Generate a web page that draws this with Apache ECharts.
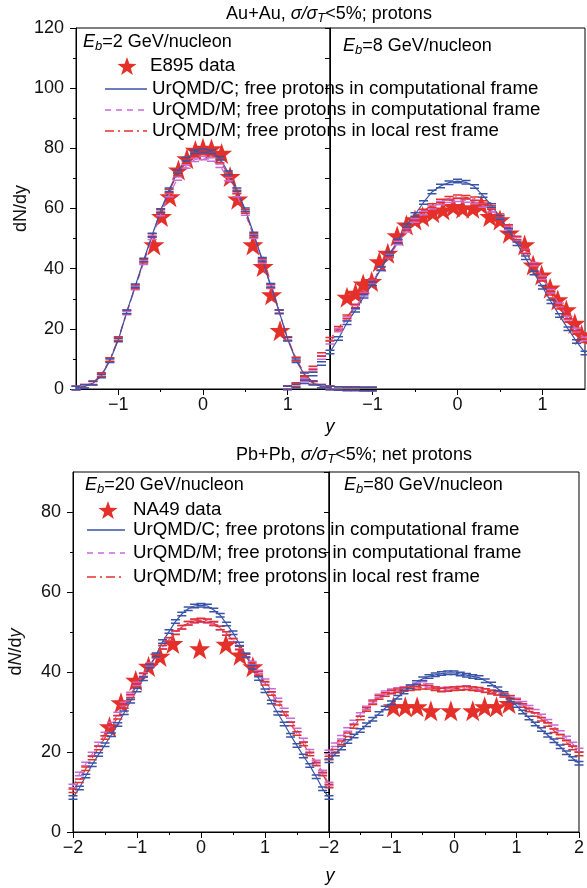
<!DOCTYPE html>
<html>
<head>
<meta charset="utf-8">
<script src="https://cdn.jsdelivr.net/npm/echarts@6/dist/echarts.min.js"></script>
<style>
  html, body { margin: 0; padding: 0; background: #fff; }
  #chart { width: 587px; height: 888px; }
</style>
</head>
<body>
<div id="chart"></div>
<script>
// rapidity grids of the model curves
const xs2 = [-1.5,-1.4,-1.3,-1.2,-1.1,-1.0,-0.9,-0.8,-0.7,-0.6,-0.5,-0.4,-0.3,-0.2,-0.1,0,0.1,0.2,0.3,0.4,0.5,0.6,0.7,0.8,0.9,1.0,1.1,1.2,1.3,1.4,1.5,1.6,1.7,1.8,1.9,2.0];
const xs8 = [-2.0,-1.9,-1.8,-1.7,-1.6,-1.5,-1.4,-1.3,-1.2,-1.1,-1.0,-0.9,-0.8,-0.7,-0.6,-0.5,-0.4,-0.3,-0.2,-0.1,0,0.1,0.2,0.3,0.4,0.5,0.6,0.7,0.8,0.9,1.0,1.1,1.2,1.3,1.4,1.5];
const xsPb = [-2.0,-1.9,-1.8,-1.7,-1.6,-1.5,-1.4,-1.3,-1.2,-1.1,-1.0,-0.9,-0.8,-0.7,-0.6,-0.5,-0.4,-0.3,-0.2,-0.1,0,0.1,0.2,0.3,0.4,0.5,0.6,0.7,0.8,0.9,1.0,1.1,1.2,1.3,1.4,1.5,1.6,1.7,1.8,1.9,2.0];

// Au+Au 2 GeV/nucleon
const blue2 = [0.3,0.8,1.9,4.3,9.4,16.3,25.7,34.3,42.9,51.2,59.3,66.2,72.2,76.4,78.9,79.2,78.9,76.7,71.9,66.2,59.6,51.5,43.1,34.5,25.7,16.5,9.4,4.7,1.9,0.8,0.3,0.2,0.1,0.1,0.0,0.0];
const mag2 = [0.3,0.9,2.0,4.6,9.6,16.5,25.3,33.6,42.0,50.3,58.2,64.5,70.0,74.0,76.2,76.8,76.3,74.2,69.8,64.5,58.3,50.6,42.4,34.0,25.6,16.7,9.9,4.9,2.1,0.9,0.4,0.2,0.1,0.1,0.0,0.0];
const red2 = [0.3,0.9,2.1,4.8,9.8,16.8,25.6,34.0,42.5,51.0,59.0,65.8,71.5,75.6,77.9,78.5,78.0,75.8,71.2,65.5,59.0,51.0,42.8,34.2,25.8,16.8,10.0,5.0,2.2,0.9,0.4,0.2,0.1,0.1,0.0,0.0];
const e895x2 = [-0.58,-0.49,-0.39,-0.29,-0.19,-0.09,0.0,0.1,0.22,0.32,0.41,0.59,0.71,0.81,0.91];
const e895y2 = [47.9,57.3,63.9,72.8,76.5,79.3,80.0,79.8,78.3,70.6,63.1,47.9,40.7,31.3,19.4];

// Au+Au 8 GeV/nucleon
const blue8 = [0.3,1.0,2.4,5.0,8.5,12.3,16.8,22.0,26.2,30.8,35.0,40.0,45.0,49.2,54.3,58.0,62.0,65.5,67.5,68.6,69.1,68.7,67.3,64.3,61.0,57.0,52.8,48.3,43.6,38.6,33.8,29.0,24.4,20.0,15.8,12.0];
const mag8 = [0.4,1.2,3.0,6.2,10.5,15.5,19.6,23.4,27.2,31.5,35.8,40.0,44.2,48.5,52.8,56.0,58.5,60.4,61.8,62.6,62.9,62.7,62.2,61.0,59.4,57.0,53.6,49.8,45.8,41.5,37.0,32.5,28.0,23.6,19.6,16.6];
const red8 = [0.5,1.5,3.5,7.0,11.5,16.5,20.2,24.0,27.6,32.3,36.0,40.1,44.5,49.0,53.4,56.7,59.2,61.0,62.5,63.4,63.9,63.7,63.2,62.0,60.3,57.6,54.0,50.2,45.5,41.0,36.5,31.8,27.2,22.8,18.8,16.0];
const e895x8 = [-1.3,-1.2,-1.11,-1.01,-0.92,-0.82,-0.71,-0.6,-0.5,-0.41,-0.29,-0.17,-0.05,0.06,0.18,0.28,0.38,0.5,0.61,0.79,0.89,0.99,1.09,1.18,1.28,1.38,1.46];
const e895y8 = [30.5,31.8,34.9,35.7,42.3,45.1,50.9,54.5,56.2,57.3,58.6,59.5,60.6,60.1,60.1,61.2,57.3,56.2,51.8,47.9,41.2,37.9,33.5,29.6,26.3,21.8,18.0];

// Pb+Pb 20 GeV/nucleon
const blue20 = [8.6,11.0,14.0,16.8,19.4,21.8,24.3,26.9,29.8,32.7,35.5,38.3,41.5,44.3,47.6,50.1,52.6,54.5,55.8,56.5,56.7,56.5,55.5,54.2,52.0,49.8,47.0,44.2,41.2,38.4,35.3,32.5,29.7,27.0,24.2,21.6,19.0,16.6,13.8,10.8,8.6];
const mag20 = [11.5,14.5,17.0,19.5,22.0,24.5,27.0,29.5,32.0,34.5,37.0,39.4,41.8,44.0,46.2,48.2,49.9,51.2,52.2,52.7,52.9,52.7,52.0,51.0,49.6,48.0,46.2,44.2,42.2,40.0,37.8,35.4,33.0,30.5,28.0,25.5,23.0,20.2,17.5,15.0,12.0];
const red20 = [10.3,12.8,15.8,18.5,21.0,23.6,26.2,28.7,31.4,34.0,36.7,39.2,41.6,44.0,46.2,48.1,49.8,51.2,52.2,52.8,53.0,52.8,52.2,51.0,49.6,47.9,46.0,44.0,41.8,39.6,37.2,34.6,32.2,29.6,27.0,24.6,22.0,19.5,17.0,14.5,11.5];
const na49x20 = [-1.43,-1.25,-1.02,-0.82,-0.64,-0.44,-0.02,0.39,0.61,0.81];
const na49y20 = [26.3,32.3,37.9,41.4,43.9,47.1,45.8,46.9,44.2,41.3];

// Pb+Pb 80 GeV/nucleon
const blue80 = [17.8,19.5,21.0,22.6,24.0,25.4,26.8,28.2,29.6,31.0,32.3,33.7,35.0,36.3,37.4,38.3,38.9,39.3,39.6,39.8,39.8,39.5,39.2,38.9,38.6,37.8,37.0,35.8,34.6,33.0,31.6,30.0,28.5,27.0,25.6,24.2,22.8,21.3,19.8,18.4,17.2];
const mag80 = [20.0,21.8,23.7,25.6,27.5,29.4,31.0,32.6,34.0,34.8,35.3,35.6,35.9,36.3,36.8,37.1,36.6,35.9,35.7,35.8,35.9,36.0,36.1,35.9,35.6,35.3,35.0,34.7,34.2,33.7,33.0,32.2,31.2,30.2,29.0,27.7,26.3,24.9,23.5,22.0,20.5];
const red80 = [18.5,20.2,22.3,24.3,26.4,28.5,30.6,32.3,33.6,34.4,35.0,35.3,35.6,35.8,36.0,36.2,36.2,35.8,35.5,35.6,35.8,35.9,36.0,35.8,35.7,35.4,35.0,34.7,34.2,33.6,32.7,31.6,30.5,29.4,28.2,26.9,25.3,23.9,22.4,21.0,19.5];
const na49x80 = [-0.97,-0.78,-0.59,-0.37,-0.05,0.30,0.49,0.68,0.88];
const na49y80 = [31.3,31.3,31.3,30.3,30.3,30.3,31.3,31.3,32.1];

// tick labels
const xTicksTop = [-1, 0, 1];
const xMinorTop = [-0.5, 0.5];
const xTicksBotL = [-2, -1, 0, 1];
const xTicksBotR = [-2, -1, 0, 1, 2];
const xTicksBot = [-2, -1, 0, 1, 2];
const xMinorBot = [-1.5, -0.5, 0.5, 1.5];
const yTicksTop = [0, 20, 40, 60, 80, 100, 120];
const yMinorTop = [10, 30, 50, 70, 90, 110];
const yTicksBot = [0, 20, 40, 60, 80];
const yMinorBot = [10, 30, 50, 70];

const FONT = '"Liberation Sans", Arial, Helvetica, sans-serif';
const BLUE = '#3953a8';
const MAG = '#c86ad8';
const RED = '#e5302a';
const STAR = 'path://M12,0.5L14.9,8.7L23.5,8.7L16.6,13.9L19.2,22.3L12,17.2L4.8,22.3L7.4,13.9L0.5,8.7L9.1,8.7Z';
const CAP = 'path://M0,0H10V1.5H0Z M0,3.5H10V5H0Z';

const rich = {
    n: { fontSize: 18, fontFamily: FONT, color: '#111', lineHeight: 22 },
    l: { fontSize: 18.7, fontFamily: FONT, color: '#111', lineHeight: 22 },
    i: { fontSize: 18, fontFamily: FONT, color: '#111', fontStyle: 'italic', lineHeight: 22 },
    s: { fontSize: 13, fontFamily: FONT, color: '#111', fontStyle: 'italic', lineHeight: 11, verticalAlign: 'bottom' }
};

const zip = (xs, ys) => xs.map((x, i) => [x, ys[i]]);
const minus = v => String(v).replace('-', '\u2212');

const xMajor = (grid, min, max, ticks, labels) => ({
    type: 'value', gridIndex: grid, position: 'bottom', min, max,
    axisLine: { show: true, onZero: false, lineStyle: { color: '#000', width: 1 } },
    axisTick: { show: true, length: 6, customValues: ticks, lineStyle: { color: '#000' } },
    axisLabel: { customValues: labels, margin: 7, fontSize: 18, fontFamily: FONT, color: '#111', formatter: minus },
    splitLine: { show: false }
});
const xMinor = (grid, min, max, ticks) => ({
    type: 'value', gridIndex: grid, position: 'bottom', min, max,
    axisLine: { show: false, onZero: false },
    axisTick: { show: true, length: 3, customValues: ticks, lineStyle: { color: '#000' } },
    axisLabel: { show: false },
    splitLine: { show: false }
});
const yMajor = (grid, min, max, ticks, name, nameStyle) => ({
    type: 'value', gridIndex: grid, position: 'left', min, max,
    name, nameLocation: 'middle', nameGap: 46, nameTextStyle: nameStyle,
    axisLine: { show: true, onZero: false, lineStyle: { color: '#000', width: 1 } },
    axisTick: { show: true, length: 6, customValues: ticks, lineStyle: { color: '#000' } },
    axisLabel: { customValues: ticks, margin: 12, fontSize: 18, fontFamily: FONT, color: '#111' },
    splitLine: { show: false }
});
const yMinor = (grid, min, max, ticks) => ({
    type: 'value', gridIndex: grid, position: 'left', min, max,
    axisLine: { show: false, onZero: false },
    axisTick: { show: true, length: 3, customValues: ticks, lineStyle: { color: '#000' } },
    axisLabel: { show: false },
    splitLine: { show: false }
});
const yMirror = (grid, min, max) => ({
    type: 'value', gridIndex: grid, position: 'right', min, max, interval: 10,
    axisLine: { show: true, onZero: false, lineStyle: { color: '#000', width: 1 } },
    axisTick: { show: true, inside: true, length: 5, lineStyle: { color: '#000' } },
    axisLabel: { show: false },
    splitLine: { show: false }
});
const yHidden = (grid, min, max) => ({
    type: 'value', gridIndex: grid, min, max, show: false,
    axisLine: { onZero: false }, splitLine: { show: false }
});

const model = (name, xs, ys, xi, yi, color, dash) => ({
    type: 'line', name, xAxisIndex: xi, yAxisIndex: yi, data: zip(xs, ys),
    clip: false, symbol: CAP, symbolSize: [9, 5], showSymbol: true,
    itemStyle: { color }, lineStyle: { color, width: 1.2, type: dash }, z: 3
});
const stars = (name, xs, ys, xi, yi) => ({
    type: 'scatter', name, xAxisIndex: xi, yAxisIndex: yi, data: zip(xs, ys),
    symbol: STAR, symbolSize: 21, itemStyle: { color: RED, opacity: 1 }, z: 2
});

const text = (x, y, str, align) => ({
    type: 'text', x, y, z: 10,
    style: { text: str, rich, align: align || 'left', verticalAlign: 'middle',
             textAlign: align || 'left', textVerticalAlign: 'middle' }
});
const legendLine = (x1, x2, y, color, dash) => ({
    type: 'line', z: 10, shape: { x1, y1: y, x2, y2: y },
    style: { stroke: color, lineWidth: 1.5, lineDash: dash }
});
// five-pointed star icon for the legend
const legendStar = (cx, cy) => {
    const pts = [];
    for (let k = 0; k < 10; k++) {
        const r = k % 2 ? 4 : 10;
        const a = -Math.PI / 2 + k * Math.PI / 5;
        pts.push([cx + r * Math.cos(a), cy + 1 + r * Math.sin(a)]);
    }
    return { type: 'polygon', z: 10, shape: { points: pts }, style: { fill: RED } };
};

const DASH = [6, 5];
const DASHDOT = [9, 4, 2, 4];
const lbl1 = '{l|UrQMD/C; free protons in computational frame}';
const lbl2 = '{l|UrQMD/M; free protons in computational frame}';
const lbl3 = '{l|UrQMD/M; free protons in local rest frame}';

const chart = echarts.init(document.getElementById('chart'));
chart.setOption({
    animation: false,
    backgroundColor: '#fff',
    grid: [
        { left: 76, top: 28, width: 254, height: 361, show: true, borderColor: '#000', borderWidth: 1 },
        { left: 330, top: 28, width: 255, height: 361, show: true, borderColor: '#000', borderWidth: 1 },
        { left: 73, top: 472, width: 256, height: 360, show: true, borderColor: '#000', borderWidth: 1 },
        { left: 329, top: 472, width: 256, height: 360, show: true, borderColor: '#000', borderWidth: 1 }
    ],
    xAxis: [
        xMajor(0, -1.5, 1.5, xTicksTop, xTicksTop), xMinor(0, -1.5, 1.5, xMinorTop),
        xMajor(1, -1.5, 1.5, xTicksTop, xTicksTop), xMinor(1, -1.5, 1.5, xMinorTop),
        xMajor(2, -2, 2, xTicksBot, xTicksBotL), xMinor(2, -2, 2, xMinorBot),
        xMajor(3, -2, 2, xTicksBot, xTicksBotR), xMinor(3, -2, 2, xMinorBot)
    ],
    yAxis: [
        yMajor(0, 0, 120, yTicksTop, 'dN/dy', { fontSize: 18, fontFamily: FONT, color: '#111' }),
        yMinor(0, 0, 120, yMinorTop),
        yMirror(0, 0, 120),
        yHidden(1, 0, 120),
        yMajor(2, 0, 90, yTicksBot, '{n|d}{i|N}{n|/d}{i|y}', { rich }),
        yMinor(2, 0, 90, yMinorBot),
        yMirror(2, 0, 90),
        yHidden(3, 0, 90)
    ],
    series: [
        stars('E895 2', e895x2, e895y2, 0, 0),
        model('M comp 2', xs2, mag2, 0, 0, MAG, DASH),
        model('M local 2', xs2, red2, 0, 0, RED, DASHDOT),
        model('C comp 2', xs2, blue2, 0, 0, BLUE, 'solid'),

        stars('E895 8', e895x8, e895y8, 2, 3),
        model('M comp 8', xs8, mag8, 2, 3, MAG, DASH),
        model('M local 8', xs8, red8, 2, 3, RED, DASHDOT),
        model('C comp 8', xs8, blue8, 2, 3, BLUE, 'solid'),

        stars('NA49 20', na49x20, na49y20, 4, 4),
        model('M comp 20', xsPb, mag20, 4, 4, MAG, DASH),
        model('M local 20', xsPb, red20, 4, 4, RED, DASHDOT),
        model('C comp 20', xsPb, blue20, 4, 4, BLUE, 'solid'),

        stars('NA49 80', na49x80, na49y80, 6, 7),
        model('M comp 80', xsPb, mag80, 6, 7, MAG, DASH),
        model('M local 80', xsPb, red80, 6, 7, RED, DASHDOT),
        model('C comp 80', xsPb, blue80, 6, 7, BLUE, 'solid')
    ],
    graphic: [
        // titles
        text(329, 14, '{n|Au+Au, }{i|σ/σ}{s|T}{n|<5%; protons}', 'center'),
        text(354, 455, '{n|Pb+Pb, }{i|σ/σ}{s|T}{n|<5%; net protons}', 'center'),
        text(330, 427, '{i|y}', 'center'),
        text(330, 876, '{i|y}', 'center'),

        // Au+Au legend
        text(83, 42, '{i|E}{s|b}{n|=2 GeV/nucleon}'),
        text(343, 46, '{i|E}{s|b}{n|=8 GeV/nucleon}'),
        legendStar(127, 66),
        text(150, 66, '{l|E895 data}'),
        legendLine(105, 147, 89, BLUE, null),
        text(152, 89, lbl1),
        legendLine(105, 147, 110, MAG, DASH),
        text(152, 110, lbl2),
        legendLine(105, 147, 131, RED, DASHDOT),
        text(152, 131, lbl3),

        // Pb+Pb legend
        text(85, 485, '{i|E}{s|b}{n|=20 GeV/nucleon}'),
        text(344, 485, '{i|E}{s|b}{n|=80 GeV/nucleon}'),
        legendStar(108, 510),
        text(133, 510, '{l|NA49 data}'),
        legendLine(87, 125, 530, BLUE, null),
        text(133, 530, lbl1),
        legendLine(87, 125, 553, MAG, DASH),
        text(133, 553, lbl2),
        legendLine(87, 125, 577, RED, DASHDOT),
        text(133, 577, lbl3)
    ]
});
</script>
</body>
</html>
